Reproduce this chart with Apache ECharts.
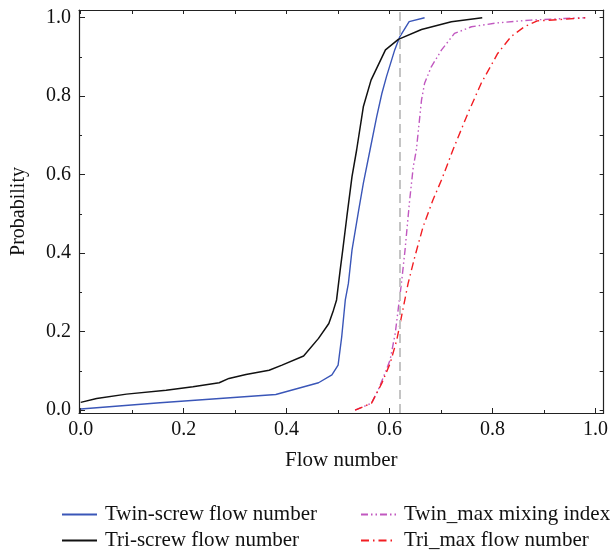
<!DOCTYPE html>
<html>
<head>
<meta charset="utf-8">
<script src="https://cdn.jsdelivr.net/npm/echarts@6/dist/echarts.min.js"></script>
<style>
  html, body { margin: 0; padding: 0; background: #fff; }
  #main { width: 611px; height: 551px; }
</style>
</head>
<body>
<div id="main"></div>
<script>
// data: [flow number, probability]
var twinScrew = [
    [0.000, 0.003], [0.154, 0.019], [0.379, 0.040], [0.462, 0.070], [0.488, 0.090],
    [0.500, 0.115], [0.507, 0.187], [0.514, 0.281], [0.520, 0.323], [0.527, 0.408],
    [0.540, 0.510], [0.549, 0.578], [0.562, 0.663], [0.575, 0.748], [0.585, 0.807],
    [0.594, 0.850], [0.610, 0.918], [0.620, 0.952], [0.638, 0.990], [0.668, 1.000]
];
var triScrew = [
    [0.000, 0.020], [0.031, 0.030], [0.089, 0.041], [0.166, 0.051], [0.218, 0.060],
    [0.269, 0.070], [0.288, 0.081], [0.321, 0.091], [0.366, 0.102], [0.391, 0.115],
    [0.433, 0.138], [0.462, 0.183], [0.482, 0.221], [0.491, 0.255], [0.497, 0.281],
    [0.504, 0.357], [0.509, 0.408], [0.517, 0.493], [0.527, 0.595], [0.536, 0.663],
    [0.549, 0.773], [0.564, 0.841], [0.592, 0.918], [0.617, 0.945], [0.662, 0.970],
    [0.720, 0.990], [0.780, 1.000]
];
var twinMax = [
    [0.533, 0.000], [0.565, 0.018], [0.578, 0.052], [0.591, 0.094], [0.601, 0.128],
    [0.611, 0.196], [0.617, 0.260], [0.623, 0.323], [0.630, 0.408], [0.639, 0.535],
    [0.646, 0.620], [0.652, 0.663], [0.662, 0.790], [0.668, 0.833], [0.681, 0.875],
    [0.701, 0.918], [0.726, 0.960], [0.759, 0.977], [0.810, 0.987], [0.874, 0.994],
    [0.939, 0.998], [0.980, 1.000]
];
var triMax = [
    [0.533, 0.000], [0.565, 0.018], [0.585, 0.069], [0.601, 0.119], [0.614, 0.179],
    [0.623, 0.238], [0.636, 0.323], [0.649, 0.391], [0.665, 0.467], [0.684, 0.535],
    [0.701, 0.587], [0.723, 0.663], [0.752, 0.756], [0.778, 0.833], [0.810, 0.909],
    [0.836, 0.952], [0.862, 0.977], [0.887, 0.992], [0.939, 0.996], [0.980, 1.000]
];
var splitX = 0.616; // dashed gray marker line
var names = ['Twin-screw flow number', 'Tri-screw flow number', 'Twin_max mixing index', 'Tri_max flow number'];
var majorTicks = [0, 0.2, 0.4, 0.6, 0.8, 1.0];
var minorTicks = [0.1, 0.3, 0.5, 0.7, 0.9];
var allTicks = [0, 0.1, 0.2, 0.3, 0.4, 0.5, 0.6, 0.7, 0.8, 0.9, 1.0];

var font = 'Liberation Serif';
var axisColor = '#222';
var X_MIN = -0.0033, X_MAX = 1.0158;
var Y_MIN = -0.0071, Y_MAX = 1.0197;

// helper for the tick-only axes (frame mirror + minor ticks)
function tickAxis(pos, ticks, len, showLine, min, max) {
    return {
        type: 'value', position: pos, min: min, max: max,
        axisLine: {show: showLine, onZero: false, lineStyle: {color: axisColor, width: 1.2}},
        axisTick: {show: true, inside: true, length: len, customValues: ticks,
            lineStyle: {color: axisColor, width: 1}},
        axisLabel: {show: false},
        splitLine: {show: false}
    };
}

// one legend per entry so each can sit where the reference has it
function legendAt(name, left, top) {
    return {
        data: [name], left: left, top: top,
        itemWidth: 35, itemHeight: 14,
        itemStyle: {color: 'rgba(0,0,0,0)', borderWidth: 0, opacity: 0},
        textStyle: {fontFamily: font, fontSize: 21, color: '#111', padding: [0, 0, 0, 3]}
    };
}

var chart = echarts.init(document.getElementById('main'));
var option = {
    animation: false,
    grid: {left: 79, right: 4.5, top: 10, bottom: 138},
    xAxis: [
        {
            type: 'value', position: 'bottom', min: X_MIN, max: X_MAX,
            name: 'Flow number', nameLocation: 'middle', nameGap: 37,
            nameTextStyle: {fontFamily: font, fontSize: 21, color: '#111'},
            axisLine: {onZero: false, lineStyle: {color: axisColor, width: 1.2}},
            axisTick: {inside: true, length: 5, customValues: majorTicks, lineStyle: {color: axisColor}},
            axisLabel: {
                customValues: majorTicks, margin: 7,
                fontFamily: font, fontSize: 20, color: '#111',
                formatter: function (v) { return v.toFixed(1); }
            },
            splitLine: {show: false}
        },
        tickAxis('bottom', minorTicks, 3, false, X_MIN, X_MAX),
        tickAxis('top', allTicks, 4, true, X_MIN, X_MAX)
    ],
    yAxis: [
        {
            type: 'value', position: 'left', min: Y_MIN, max: Y_MAX,
            name: 'Probability', nameLocation: 'middle', nameGap: 50,
            nameTextStyle: {fontFamily: font, fontSize: 20, color: '#111'},
            axisLine: {onZero: false, lineStyle: {color: axisColor, width: 1.2}},
            axisTick: {inside: true, length: 6, customValues: majorTicks, lineStyle: {color: axisColor}},
            axisLabel: {
                customValues: majorTicks, margin: 8,
                fontFamily: font, fontSize: 20, color: '#111',
                formatter: function (v) { return v.toFixed(1); }
            },
            splitLine: {show: false}
        },
        tickAxis('left', minorTicks, 3, false, Y_MIN, Y_MAX),
        tickAxis('right', allTicks, 4, true, Y_MIN, Y_MAX)
    ],
    legend: [
        legendAt(names[0], 56, 499),
        legendAt(names[1], 56, 525),
        legendAt(names[2], 355, 499),
        legendAt(names[3], 355, 525)
    ],
    series: [
        {
            name: names[0], type: 'line', data: twinScrew, symbol: 'none',
            lineStyle: {color: '#3a56b8', width: 1.4}, itemStyle: {color: '#3a56b8'},
            z: 3,
            markLine: {
                silent: true, symbol: 'none', label: {show: false},
                lineStyle: {color: '#c4c4c4', type: [9, 5], width: 2},
                data: [{xAxis: splitX}]
            }
        },
        {
            name: names[1], type: 'line', data: triScrew, symbol: 'none',
            lineStyle: {color: '#111', width: 1.5}, itemStyle: {color: '#111'}
        },
        {
            name: names[2], type: 'line', data: twinMax, symbol: 'none',
            lineStyle: {color: '#c158c0', width: 1.4, type: [7, 3, 1.5, 3, 1.5, 3]},
            itemStyle: {color: '#c158c0'}
        },
        {
            name: names[3], type: 'line', data: triMax, symbol: 'none',
            lineStyle: {color: '#f21d22', width: 1.4, type: [8, 4, 1.5, 4]},
            itemStyle: {color: '#f21d22'}
        }
    ]
};
chart.setOption(option);
</script>
</body>
</html>
